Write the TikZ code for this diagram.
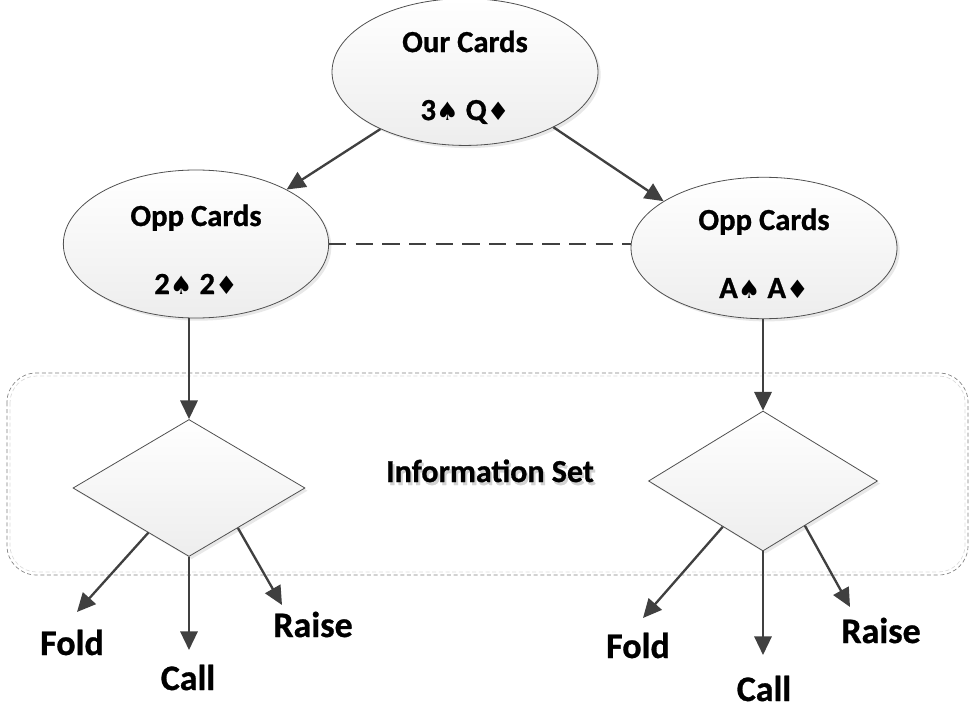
\documentclass[tikz,border=0pt]{standalone}
\usepackage{fontspec}
\setmainfont{Carlito}[BoldFeatures={FakeBold=0.8}]
\newfontfamily\suitfont{DejaVu Sans}
\usetikzlibrary{shapes.geometric,shadows,arrows.meta,calc}
\definecolor{ink}{HTML}{404040}
\definecolor{rim}{HTML}{505050}
\newcommand\spd{{\suitfont\fontsize{19}{51}\selectfont ♠}}
\newcommand\dmd{{\suitfont\fontsize{19}{51}\selectfont ♦}}
\newcommand\highstrut{\rule{0pt}{24pt}}
\begin{document}
\begin{tikzpicture}[x=0.75pt,y=-0.75pt,
  card/.style={ellipse, draw=rim, line width=0.6pt, top color=white, bottom color=gray!14,
    drop shadow={opacity=0.18, shadow xshift=2pt, shadow yshift=-2pt},
    align=center, inner sep=0pt, font=\bfseries\fontsize{23}{51}\selectfont},
  choice/.style={diamond, draw=rim, line width=0.6pt, top color=white, bottom color=gray!14,
    drop shadow={opacity=0.18, shadow xshift=2pt, shadow yshift=-2pt}, inner sep=0pt},
  link/.style={draw=ink, line width=1.75pt, -{Triangle[length=14pt,width=13pt]}},
  act/.style={font=\bfseries\fontsize{27}{32}\selectfont, inner sep=0pt, anchor=base},
  group/.style={draw=gray, line width=0.5pt, dash pattern=on 3pt off 2pt, rounded corners=22pt}
]
\useasboundingbox (0,0) rectangle (970,709);

% information set frame
\draw[gray!30, line width=0.5pt, dash pattern=on 3pt off 2pt, rounded corners=20pt] (10,376) rectangle (965,572);
\draw[group] (7,373) rectangle (968,575);
\node[font=\bfseries\fontsize{24}{28}\selectfont, inner sep=0pt, anchor=base, text=gray!35] at (492,485) {Information Set};
\node[font=\bfseries\fontsize{24}{28}\selectfont, inner sep=0pt, anchor=base] (info) at (490,482) {Information Set};

% card nodes
\node[card, minimum width=199.5pt, minimum height=99pt] (our) at (465,72) {\highstrut Our Cards\\3\spd{} Q\dmd};
\node[card, minimum width=199pt, minimum height=111pt] (oppl) at (196,244) {\highstrut Opp Cards\\2\spd{} 2\dmd};
\node[card, minimum width=199.5pt, minimum height=105pt] (oppr) at (764,248) {\highstrut Opp Cards\\A\spd{} A\dmd};

% decision nodes
\node[choice, minimum width=174pt, minimum height=102.75pt] (dl) at (189,488) {};
\node[choice, minimum width=171.75pt, minimum height=105pt] (dr) at (763,481) {};

% edges between cards
\draw[link] (our.214) -- (oppl.31);
\draw[link] (our.-32) -- (oppr.155);
\draw[draw=ink, line width=1.75pt, dash pattern=on 13pt off 7pt] (oppl.east) -- (oppl.east -| oppr.west);
\draw[link] (oppl.south -| dl.north) -- (dl.north);
\draw[link] (oppr.south -| dr.north) -- (dr.north);

% actions, left
\node[act] (foldl) at (72,655) {Fold};
\node[act] (calll) at (188,690) {Call};
\node[act] (raisel) at (313,637) {Raise};
\coordinate (efl) at (77,612);
\coordinate (ecl) at (189,650);
\coordinate (erl) at (282,605);
\draw[link] ($(dl.south)!0.35!(dl.west)$) -- (efl);
\draw[link] (dl.south) -- (ecl);
\draw[link] ($(dl.south)!0.42!(dl.east)$) -- (erl);

% actions, right
\node[act] (foldr) at (638,658) {Fold};
\node[act] (callr) at (764,701) {Call};
\node[act] (raiser) at (881,643) {Raise};
\coordinate (efr) at (643,618);
\coordinate (ecr) at (763,655);
\coordinate (err) at (850,607);
\draw[link] ($(dr.south)!0.35!(dr.west)$) -- (efr);
\draw[link] (dr.south) -- (ecr);
\draw[link] ($(dr.south)!0.365!(dr.east)$) -- (err);
\end{tikzpicture}
\end{document}
